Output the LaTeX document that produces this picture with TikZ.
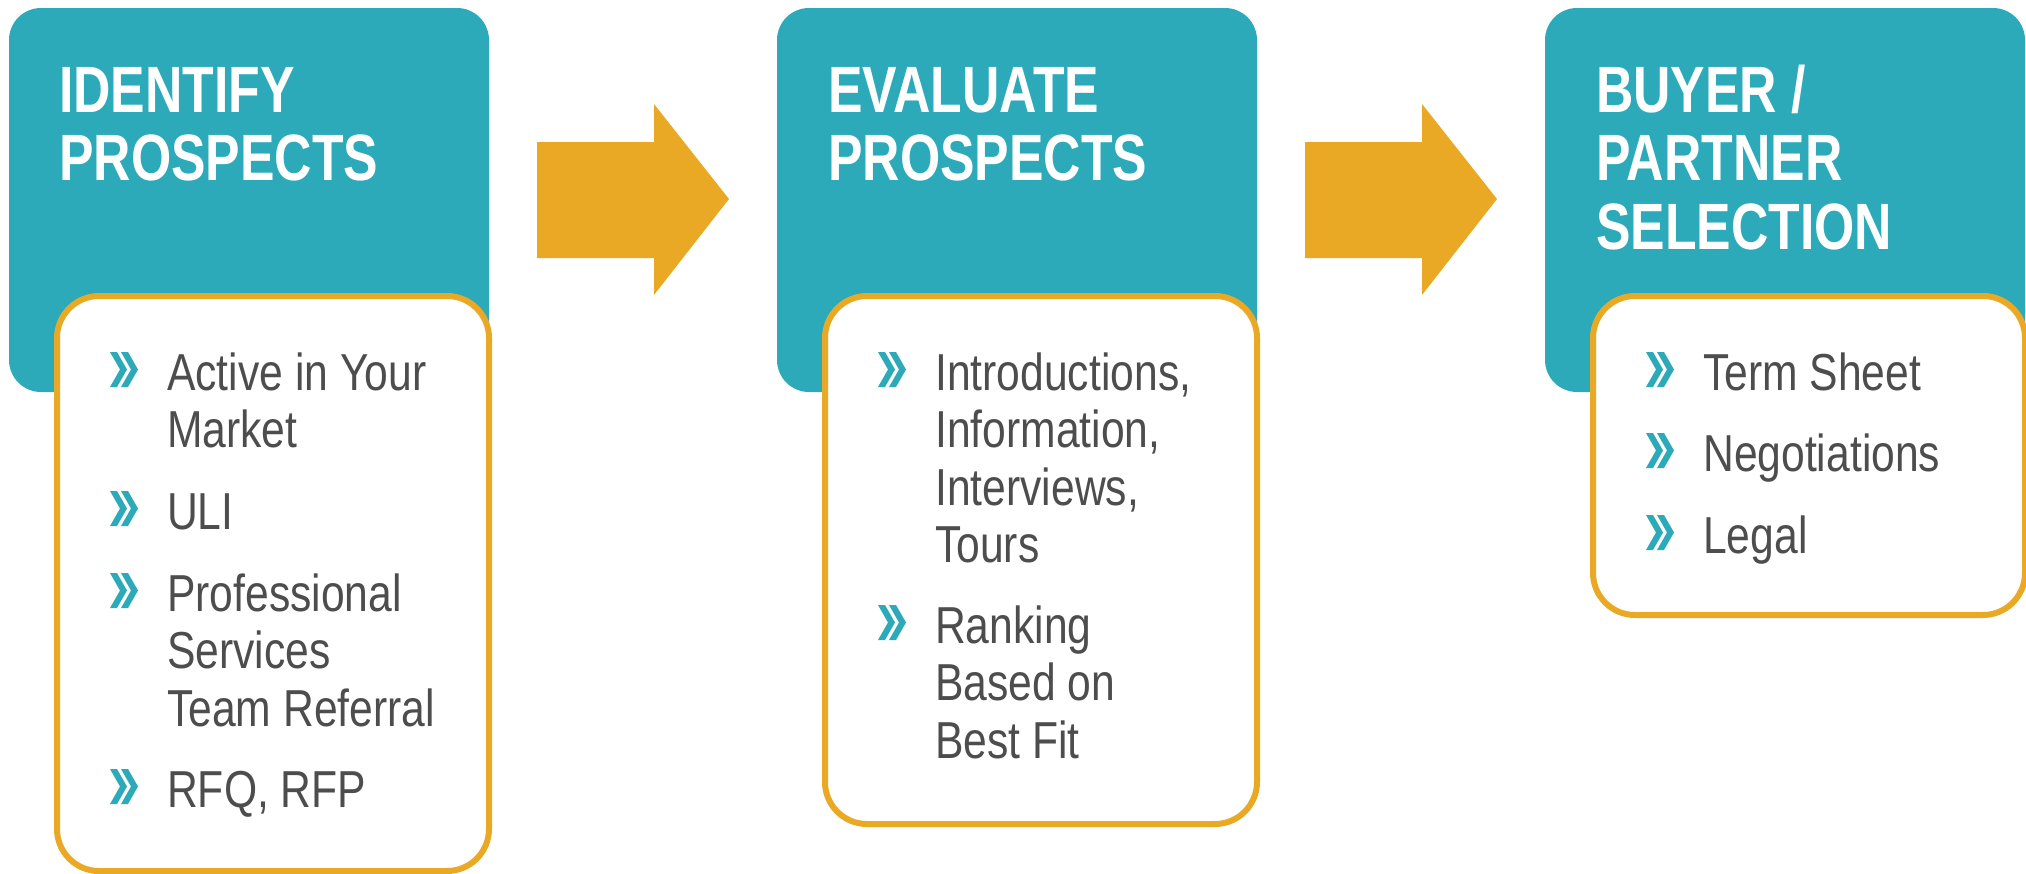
\documentclass[tikz,border=0pt]{standalone}
\usepackage{fontspec}
\setmainfont{Liberation Sans}
\newfontfamily\headfont{Liberation Sans}[FakeStretch=0.79]
\newfontfamily\itemfont{Liberation Sans}[FakeStretch=0.82]

\definecolor{tealbox}{HTML}{2CAAB9}
\definecolor{goldline}{HTML}{EAA924}
\definecolor{itemgray}{HTML}{4D4D4D}

% base anchor of a multi-line node sits on its last line
\tikzset{
  head/.style={anchor=base west, inner sep=0pt, align=left, text=white,
    font=\headfont\bfseries\fontsize{65.5}{68.5}\selectfont},
  item/.style={anchor=base west, inner sep=0pt, align=left, text=itemgray,
    font=\itemfont\fontsize{52}{57.5}\selectfont},
  % double chevron bullet, top left corner at the pic origin
  chev/.pic={
    \foreach \c in {0,11}
      \fill[tealbox] (\c,0) -- (\c+7,0) -- (\c+17,17.5) -- (\c+7,35) -- (\c,35) -- (\c+10,17.5) -- cycle;
  }
}

\begin{document}
\begin{tikzpicture}[x=1pt,y=-1pt]
  \useasboundingbox (0,0) rectangle (2026,873);

  % step panels and their lists
  \foreach \dx/\bot in {0/871, 768/824, 1536/615} {
    \fill[tealbox, rounded corners=32pt] (\dx+9,8) rectangle (\dx+489,392);
    \draw[goldline, line width=6pt, fill=white, rounded corners=42pt] (\dx+57,296) rectangle (\dx+489,\bot);
  }

  % arrows between the steps
  \foreach \dx in {0,768}
    \fill[goldline] (\dx+537,142) -- (\dx+654,142) -- (\dx+654,104) -- (\dx+729,199)
      -- (\dx+654,295) -- (\dx+654,258) -- (\dx+537,258) -- cycle;

  % headings
  \node[head] (hd1) at (59,180.5) {IDENTIFY\\PROSPECTS};
  \node[head] (hd2) at (828,180.5) {EVALUATE\\PROSPECTS};
  \node[head] (hd3) at (1596,249) {BUYER /\\PARTNER\\SELECTION};

  % first list
  \node[item] (id1) at (167,447.5) {Active in Your\\Market};
  \node[item] (id2) at (167,529) {ULI};
  \node[item] (id3) at (167,726) {Professional\\Services\\Team Referral};
  \node[item] (id4) at (167,807) {RFQ, RFP};
  \foreach \y in {390,529,611,807} \pic at (110,\y-38) {chev};

  % second list
  \node[item] (ev1) at (935,562.5) {Introductions,\\Information,\\Interviews,\\Tours};
  \node[item] (ev2) at (935,758) {Ranking\\Based on\\Best Fit};
  \foreach \y in {390,643} \pic at (878,\y-38) {chev};

  % third list
  \node[item] (sel1) at (1703,390) {Term Sheet};
  \node[item] (sel2) at (1703,471) {Negotiations};
  \node[item] (sel3) at (1703,553) {Legal};
  \foreach \y in {390,471,553} \pic at (1646,\y-38) {chev};
\end{tikzpicture}
\end{document}
